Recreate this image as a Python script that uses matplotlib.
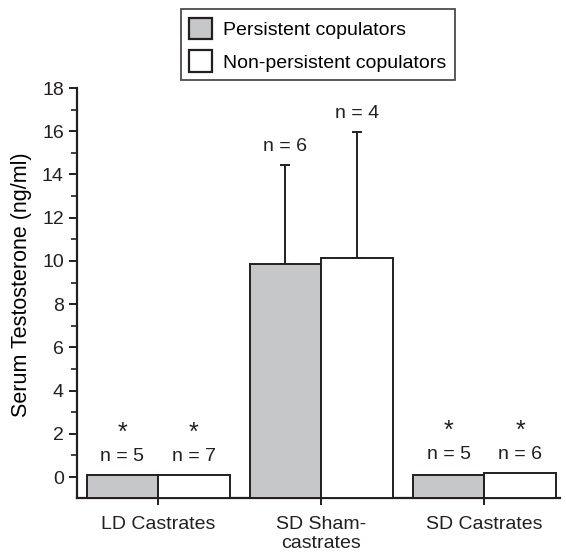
import matplotlib
matplotlib.use("Agg")
import matplotlib.pyplot as plt
import numpy as np

plt.rcParams.update({
    "font.family": ["Liberation Sans", "DejaVu Sans"],
    "font.size": 14,
})

groups = ["LD Castrates", "SD Sham-\ncastrates", "SD Castrates"]
persistent = [0.1, 9.85, 0.1]
persistent_err = [0.0, 4.6, 0.0]
non_persistent = [0.1, 10.12, 0.2]
non_persistent_err = [0.0, 5.85, 0.0]
n_persistent = ["n = 5", "n = 6", "n = 5"]
n_non_persistent = ["n = 7", "n = 4", "n = 6"]
significant = [True, False, True]

EDGE = "#231f20"
GRAY = "#c6c7c9"
YMIN = -0.97

fig = plt.figure(figsize=(5.66, 5.55), dpi=100)
ax = fig.add_axes([0.136, 0.1027, 0.854, 0.7387])

x = np.arange(len(groups))
w = 0.4386
# bars rise from the bottom of the axis, as in the original figure
ax.bar(x - w / 2, np.array(persistent) - YMIN, w, bottom=YMIN, color=GRAY,
       edgecolor=EDGE, linewidth=1.4, label="Persistent copulators", zorder=3)
ax.bar(x + w / 2, np.array(non_persistent) - YMIN, w, bottom=YMIN, color="white",
       edgecolor=EDGE, linewidth=1.4, label="Non-persistent copulators", zorder=3)

for i in range(len(groups)):
    if persistent_err[i] > 0:
        ax.errorbar(x[i] - w / 2, persistent[i], yerr=[[0], [persistent_err[i]]],
                    fmt="none", ecolor=EDGE, elinewidth=1.4, capsize=3.5, capthick=1.4, zorder=2)
    if non_persistent_err[i] > 0:
        ax.errorbar(x[i] + w / 2, non_persistent[i], yerr=[[0], [non_persistent_err[i]]],
                    fmt="none", ecolor=EDGE, elinewidth=1.4, capsize=3.5, capthick=1.4, zorder=2)

for i in range(len(groups)):
    top_p = persistent[i] + persistent_err[i]
    top_n = non_persistent[i] + non_persistent_err[i]
    if significant[i]:
        # small bars: labels share one level within the group
        top_p = top_n = max(top_p, top_n)
    ax.text(x[i] - w / 2, top_p + 0.85, n_persistent[i], ha="center", va="center",
            fontsize=14, color=EDGE)
    ax.text(x[i] + w / 2, top_n + 0.85, n_non_persistent[i], ha="center", va="center",
            fontsize=14, color=EDGE)
    if significant[i]:
        ax.text(x[i] - w / 2, top_p + 1.95, "*", ha="center", va="center",
                fontsize=18, color=EDGE)
        ax.text(x[i] + w / 2, top_n + 1.95, "*", ha="center", va="center",
                fontsize=18, color=EDGE)

ax.set_xlim(-0.497, 2.466)
ax.set_ylim(YMIN, 18)
ax.set_yticks(np.arange(0, 19, 2))
ax.set_yticks(np.arange(1, 18, 2), minor=True)
ax.set_xticks(x)
ax.set_xticklabels(groups, linespacing=1.15)
ax.set_ylabel("Serum Testosterone (ng/ml)", fontsize=15.5)
ax.yaxis.set_label_coords(-0.093, 0.52)

for side in ["top", "right"]:
    ax.spines[side].set_visible(False)
for side in ["left", "bottom"]:
    ax.spines[side].set_linewidth(1.6)
    ax.spines[side].set_color(EDGE)
ax.tick_params(axis="both", which="major", length=6, width=1.4, color=EDGE,
               labelcolor=EDGE, labelsize=14)
ax.tick_params(axis="x", which="major", length=5, pad=8)
ax.tick_params(axis="y", which="minor", length=4, width=1.2, color=EDGE)

leg = fig.legend(loc="upper center", bbox_to_anchor=(0.562, 0.984), fontsize=14,
                 frameon=True, fancybox=False, edgecolor=EDGE, handlelength=1.15,
                 handleheight=1.3, borderpad=0.45, labelspacing=0.6,
                 handletextpad=0.6, borderaxespad=0)
leg.get_frame().set_linewidth(1.3)
for h in leg.legend_handles:
    h.set_linewidth(1.6)

fig.savefig("out.png", dpi=100)
